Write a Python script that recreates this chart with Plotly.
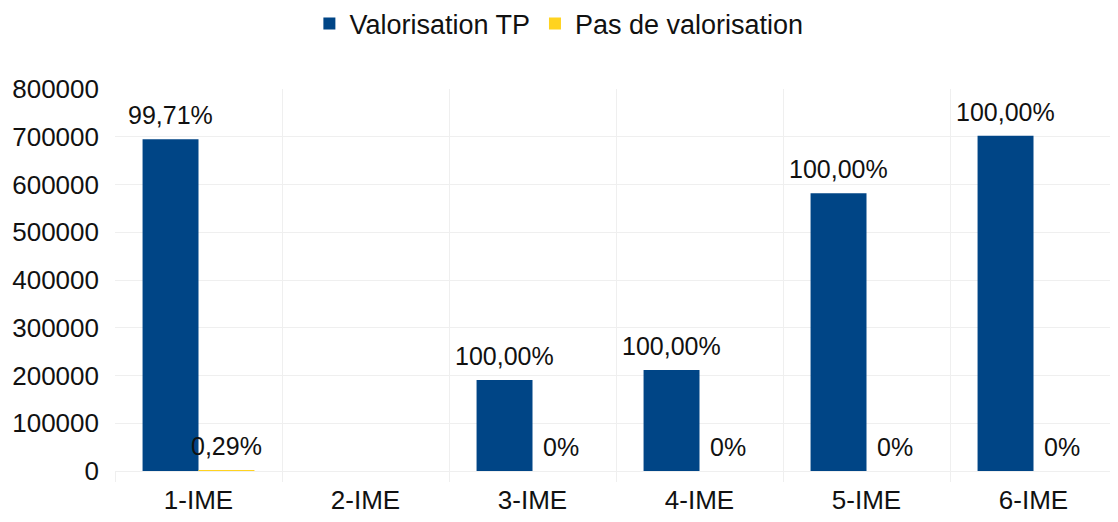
import plotly.graph_objects as go

categories = ["1-IME", "2-IME", "3-IME", "4-IME", "5-IME", "6-IME"]
valorisation_tp = [695000, None, 190500, 211500, 581500, 702200]
pas_de_valorisation = [2000, None, 0, 0, 0, 0]
labels_tp = ["99,71%", "", "100,00%", "100,00%", "100,00%", "100,00%"]
labels_pas = ["0,29%", "", "0%", "0%", "0%", "0%"]
y_ticks = [0, 100000, 200000, 300000, 400000, 500000, 600000, 700000, 800000]

BLUE = "#004586"
YELLOW = "#ffd320"
FONT = "Liberation Sans, Arial, sans-serif"

fig = go.Figure()
fig.add_trace(go.Bar(name="Valorisation TP", x=categories, y=valorisation_tp,
                     marker=dict(color=BLUE, line=dict(width=0))))
fig.add_trace(go.Bar(name="Pas de valorisation", x=categories, y=pas_de_valorisation,
                     marker=dict(color=YELLOW, line=dict(width=0))))

annotations = []
for cat, v, t in zip(categories, valorisation_tp, labels_tp):
    if v is not None and t:
        annotations.append(dict(x=cat, y=v, text=t, showarrow=False, xshift=-28, yshift=24,
                                yanchor="middle", font=dict(family=FONT, size=25, color="#111")))
for cat, v, t in zip(categories, pas_de_valorisation, labels_pas):
    if v is not None and t:
        annotations.append(dict(x=cat, y=v, text=t, showarrow=False, xshift=28, yshift=24,
                                yanchor="middle", font=dict(family=FONT, size=25, color="#111")))

fig.update_layout(
    width=1110, height=514,
    margin=dict(l=107, r=1, t=81, b=51, autoexpand=False),
    paper_bgcolor="white", plot_bgcolor="white",
    barmode="group", bargap=0.33, bargroupgap=0,
    font=dict(family=FONT, size=25, color="#111"),
    legend=dict(orientation="h", x=0.443, xanchor="center",
                y=1.17, yanchor="middle", font=dict(size=27), traceorder="normal",
                itemwidth=30),
    annotations=annotations,
    xaxis=dict(type="category", tickson="boundaries", showgrid=True, gridcolor="#efefef",
               ticks="outside", ticklen=10, tickcolor="#efefef", showline=True,
               linecolor="#efefef", tickfont=dict(size=26), tickangle=0, automargin=False,
               ticklabelstandoff=6),
    yaxis=dict(range=[0, 800000], tickvals=y_ticks, tickformat="d", showgrid=True,
               gridcolor="#efefef", zeroline=False, ticks="", ticklabelstandoff=15,
               tickfont=dict(size=26), showline=False, automargin=False),
)
fig.write_html("out.html")
